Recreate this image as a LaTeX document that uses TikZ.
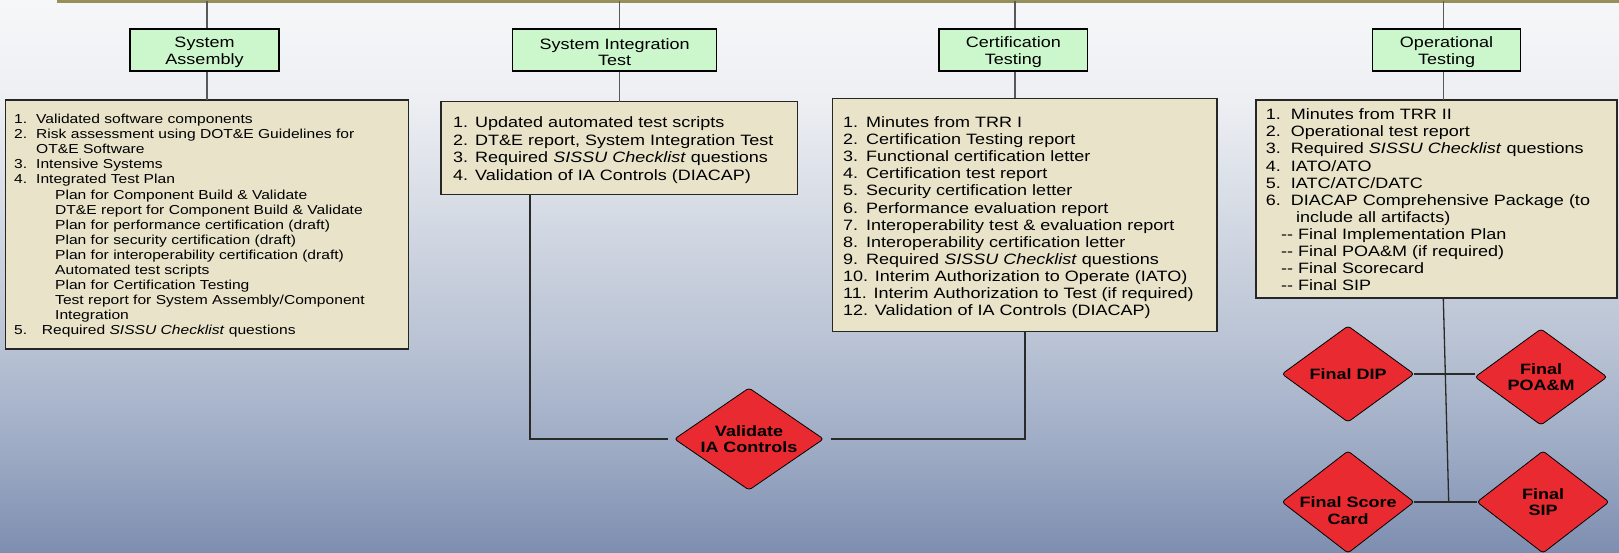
\documentclass[tikz,border=0pt]{standalone}
\usepackage{fontspec}
\setmainfont{Liberation Sans}[FakeStretch=1.2]
\usetikzlibrary{shapes.geometric}

\definecolor{bg0}{HTML}{F6F7F8}
\definecolor{bg1}{HTML}{EDEFF3}
\definecolor{bg2}{HTML}{D8DDE6}
\definecolor{bg3}{HTML}{B9C3D4}
\definecolor{bg4}{HTML}{9CAAC4}
\definecolor{bg5}{HTML}{7E8EB0}
\definecolor{boxgreen}{HTML}{CCF7CC}
\definecolor{boxtan}{HTML}{E8E3C9}
\definecolor{diared}{HTML}{E92A31}
\definecolor{barolive}{HTML}{96915A}
\definecolor{wirecol}{HTML}{2A2A2A}

\pgfdeclareverticalshading{slidebg}{100bp}{color(0bp)=(bg5); color(25bp)=(bg5); color(34bp)=(bg4); color(44bp)=(bg3); color(57bp)=(bg2); color(66bp)=(bg1); color(75bp)=(bg0); color(100bp)=(bg0)}

\newcommand\numbox[2]{\makebox[#1][l]{#2}}

\tikzset{
  phase/.style={draw=black, line width=1.1pt, fill=boxgreen, minimum height=42pt,
    inner sep=0pt, align=center, font=\fontsize{15}{16.7}\selectfont},
  listbox/.style={draw=black!85, line width=1.1pt, fill=boxtan, inner sep=0pt,
    outer sep=0pt, anchor=north west},
  listtext/.style={inner sep=0pt, anchor=north west, align=left},
  gate/.style={shape=diamond, aspect=1.4, draw=black, line width=0.8pt, fill=diared,
    inner sep=0pt, outer sep=0pt, rounded corners=3pt, align=center,
    font=\fontsize{15}{16.7}\selectfont\bfseries},
  wire/.style={draw=wirecol, line width=1.3pt},
  drop/.style={draw=black!65, line width=1.4pt},
  barline/.style={draw=barolive, line width=3pt},
}

\begin{document}
\begin{tikzpicture}[x=1pt,y=-1pt]
\useasboundingbox (0,0) rectangle (1619,553);
\shade[shading=slidebg] (0,0) rectangle (1619,553);

% phase bar along the top edge
\coordinate (barL) at (57,1.2);
\coordinate (barR) at (1619,1.2);
\coordinate (d1) at (207,1.2);
\coordinate (d2) at (619.3,1.2);
\coordinate (d3) at (1015,1.2);
\coordinate (d4) at (1443.3,1.2);
\draw[barline] (barL) -- (barR);

% phase boxes
\node[phase, minimum width=149pt] (ga) at (204.5,50) {\rule{0pt}{15pt}System\\Assembly};
\node[phase, minimum width=204pt] (gb) at (614.7,50) {\rule{0pt}{15pt}System Integration\\Test};
\node[phase, minimum width=148.7pt] (gc) at (1013.3,50) {\rule{0pt}{15pt}Certification\\Testing};
\node[phase, minimum width=148.4pt] (gd) at (1446.5,50) {\rule{0pt}{15pt}Operational\\Testing};

% deliverable lists
\node[listbox, minimum width=403pt, minimum height=249pt] (b1) at (5.7,100) {};
\node[listbox, minimum width=356.7pt, minimum height=92.6pt] (b2) at (441,101.7) {};
\node[listbox, minimum width=384.3pt, minimum height=233.2pt] (b3) at (832.7,98.5) {};
\node[listbox, minimum width=361pt, minimum height=198pt] (b4) at (1256,100) {};

\node[listtext, font=\fontsize{13}{15.07}\selectfont] (l1) at (14,112.5) {%
\rule{0pt}{11pt}\numbox{22pt}{1.}Validated software components\\
\numbox{22pt}{2.}Risk assessment using DOT\&E Guidelines for\\
\hspace*{22pt}OT\&E Software\\
\numbox{22pt}{3.}Intensive Systems\\
\numbox{22pt}{4.}Integrated Test Plan\\
\hspace*{41pt}Plan for Component Build \& Validate\\
\hspace*{41pt}DT\&E report for Component Build \& Validate\\
\hspace*{41pt}Plan for performance certification (draft)\\
\hspace*{41pt}Plan for security certification (draft)\\
\hspace*{41pt}Plan for interoperability certification (draft)\\
\hspace*{41pt}Automated test scripts\\
\hspace*{41pt}Plan for Certification Testing\\
\hspace*{41pt}Test report for System Assembly/Component\\
\hspace*{41pt}Integration\\
\numbox{27.7pt}{5.}Required \textit{SISSU Checklist} questions};

\node[listtext, font=\fontsize{15}{17.6}\selectfont] (l2) at (453,115.5) {%
\rule{0pt}{12pt}\numbox{22pt}{1.}Updated automated test scripts\\
\numbox{22pt}{2.}DT\&E report, System Integration Test\\
\numbox{22pt}{3.}Required \textit{SISSU Checklist} questions\\
\numbox{22pt}{4.}Validation of IA Controls (DIACAP)};

\node[listtext, font=\fontsize{15}{17.1}\selectfont] (l3) at (843,115.3) {%
\rule{0pt}{12pt}\numbox{23pt}{1.}Minutes from TRR I\\
\numbox{23pt}{2.}Certification Testing report\\
\numbox{23pt}{3.}Functional certification letter\\
\numbox{23pt}{4.}Certification test report\\
\numbox{23pt}{5.}Security certification letter\\
\numbox{23pt}{6.}Performance evaluation report\\
\numbox{23pt}{7.}Interoperability test \& evaluation report\\
\numbox{23pt}{8.}Interoperability certification letter\\
\numbox{23pt}{9.}Required \textit{SISSU Checklist} questions\\
10. Interim Authorization to Operate (IATO)\\
11. Interim Authorization to Test (if required)\\
12. Validation of IA Controls (DIACAP)};

\node[listtext, font=\fontsize{15}{17.1}\selectfont] (l4) at (1265.7,107.5) {%
\rule{0pt}{12pt}\numbox{25pt}{1.}Minutes from TRR II\\
\numbox{25pt}{2.}Operational test report\\
\numbox{25pt}{3.}Required \textit{SISSU Checklist} questions\\
\numbox{25pt}{4.}IATO/ATO\\
\numbox{25pt}{5.}IATC/ATC/DATC\\
\numbox{25pt}{6.}DIACAP Comprehensive Package (to\\
\hspace*{30.3pt}include all artifacts)\\
\hspace*{15.3pt}-{}- Final Implementation Plan\\
\hspace*{15.3pt}-{}- Final POA\&M (if required)\\
\hspace*{15.3pt}-{}- Final Scorecard\\
\hspace*{15.3pt}-{}- Final SIP};

% decision diamonds
\node[gate, minimum width=149pt, minimum height=102pt] (via) at (749,439) {Validate\\IA Controls};
\node[gate, minimum width=132pt, minimum height=96pt] (dip) at (1348,374) {Final DIP};
\node[gate, minimum width=132pt, minimum height=96pt] (poa) at (1541,377) {Final\\POA\&M};
\node[gate, minimum width=132pt, minimum height=102pt] (sc) at (1348,502)
  {\raisebox{-14pt}[0pt][0pt]{\begin{tabular}{@{}c@{}}Final Score\\Card\end{tabular}}};
\node[gate, minimum width=132pt, minimum height=102pt] (sip) at (1543,502) {Final\\SIP};
\coordinate (jb) at (1448.7,502);

% drops from the phase bar through each phase box
\draw[drop] (d1) -- (d1 |- ga.north);
\draw[drop] (d1 |- ga.south) -- (d1 |- b1.north);
\draw[drop] (d2) -- (d2 |- gb.north);
\draw[drop] (d2 |- gb.south) -- (d2 |- b2.north);
\draw[drop] (d3) -- (d3 |- gc.north);
\draw[drop] (d3 |- gc.south) -- (d3 |- b3.north);
\draw[drop] (d4) -- (d4 |- gd.north);
\draw[drop] (d4 |- gd.south) -- (d4 |- b4.north);

% IA controls loop
\draw[wire, shorten >=7pt] ([xshift=89pt]b2.south west) |- (via.west);
\draw[wire, shorten <=7pt] (via.east) -| (b3.south);

% final artifacts
\draw[wire] ([xshift=6.8pt]b4.south) -- (jb);
\draw[wire] (dip.east) -- (dip.east -| poa.west);
\draw[wire] (sc.east) -- (sc.east -| sip.west);
\end{tikzpicture}
\end{document}
